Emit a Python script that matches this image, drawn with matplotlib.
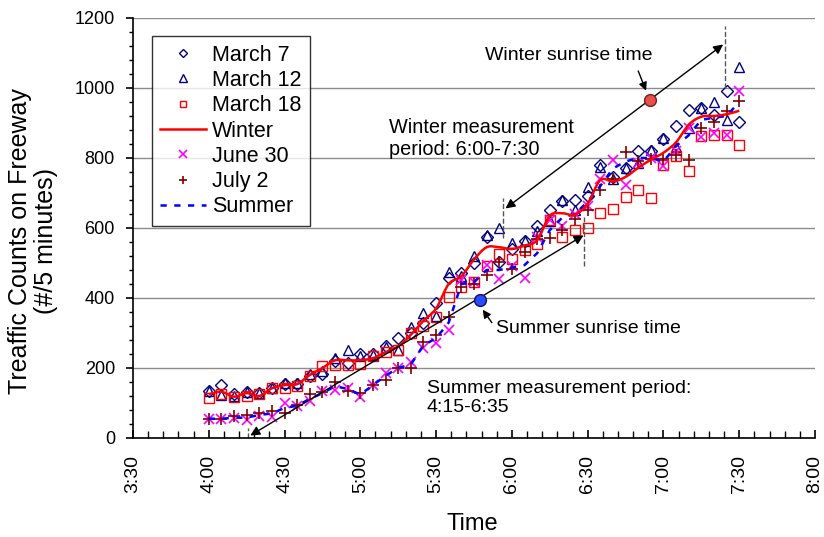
import numpy as np
import matplotlib
matplotlib.use('Agg')
import matplotlib.pyplot as plt
from matplotlib.path import Path
from matplotlib.patches import PathPatch

# readings every 5 minutes from 4:00 to 7:30 (minutes after midnight)
minutes = np.arange(240, 451, 5)

march7 = [135, 150, 125, 130, 128, 143, 155, 155, 178, 183,
          220, 215, 240, 240, 263, 286, 300, 328, 387, 457,
          470, 501, 573, 504, 540, 564, 606, 651, 677, 680,
          690, 780, 745, 770, 821, 821, 855, 891, 937, 942,
          923, 990, 904]
march12 = [135, 123, 120, 132, 128, 143, 157, 157, 183, 190,
           228, 250, 235, 237, 260, 250, 318, 356, 349, 475,
           462, 520, 580, 599, 556, 564, 590, 620, 680, 651,
           716, 775, 739, 770, 786, 823, 856, 832, 885, 942,
           961, 909, 1061]
march18 = [114, 125, 118, 120, 125, 143, 143, 149, 176, 206,
           208, 208, 211, 234, 247, 251, 299, 320, 347, 404,
           432, 447, 491, 526, 510, 537, 555, 623, 575, 594,
           599, 644, 655, 688, 709, 686, 779, 805, 762, 862,
           867, 867, 838]
winter = [125, 132, 118, 128, 120, 142, 151, 154, 180, 200,
          222, 222, 222, 228, 245, 262, 295, 335, 370, 440,
          462, 510, 545, 545, 540, 550, 565, 635, 642, 638,
          670, 737, 733, 746, 772, 795, 815, 845, 895, 918,
          920, 925, 935]
june30 = [54, 54, 57, 51, 63, 60, 100, 92, 107, 135,
          137, 143, 118, 151, 187, 199, 218, 256, 270, 309,
          451, 447, 494, 453, 490, 456, 575, 623, 606, 640,
          663, 739, 794, 723, 786, 800, 777, 820, 886, 861,
          870, 867, 992]
july2 = [54, 54, 63, 66, 72, 77, 71, 94, 125, 130,
         161, 135, 128, 151, 166, 199, 199, 275, 294, 347,
         432, 440, 466, 504, 483, 532, 568, 572, 594, 625,
         651, 709, 739, 818, 790, 796, 796, 809, 794, 887,
         904, 933, 964]
summer = [55, 55, 58, 58, 66, 70, 86, 92, 112, 128,
          148, 140, 124, 151, 178, 200, 210, 265, 285, 330,
          440, 445, 480, 480, 487, 494, 528, 594, 630, 640,
          675, 720, 770, 790, 800, 800, 790, 834, 865, 909,
          915, 920, 960]

tick_minutes = [210, 240, 270, 300, 330, 360, 390, 420, 450, 480]
tick_labels = ['3:30', '4:00', '4:30', '5:00', '5:30', '6:00', '6:30', '7:00', '7:30', '8:00']

# sunrise markers and measurement windows (time in minutes, count)
summer_sunrise = (347.2, 394)
winter_sunrise = (414.6, 966)
summer_period = [(255.5, 3), (389.3, 583)]
winter_period = [(356.6, 651), (444.5, 1129)]

plt.rcParams['font.family'] = ['Liberation Sans', 'DejaVu Sans']


def smooth_path(x, y):
    # Bezier segments through every reading, like a spreadsheet "smoothed line"
    x = np.asarray(x, float)
    y = np.asarray(y, float)
    n = len(x)
    verts = [(x[0], y[0])]
    codes = [Path.MOVETO]
    for i in range(n - 1):
        i0 = max(i - 1, 0)
        i3 = min(i + 2, n - 1)
        c1 = (x[i] + (x[i + 1] - x[i0]) / 6, y[i] + (y[i + 1] - y[i0]) / 6)
        c2 = (x[i + 1] - (x[i3] - x[i]) / 6, y[i + 1] - (y[i3] - y[i]) / 6)
        verts += [c1, c2, (x[i + 1], y[i + 1])]
        codes += [Path.CURVE4] * 3
    return Path(verts, codes)


fig = plt.figure(figsize=(8.24, 5.37), dpi=100)
ax = fig.add_axes([0.1614, 0.1844, 0.8277, 0.7821])

ax.set_xlim(210, 480)
ax.set_ylim(0, 1200)
ax.set_yticks(range(0, 1201, 200))
ax.set_yticks(range(0, 1201, 40), minor=True)
ax.set_xticks(tick_minutes)
ax.set_xticklabels(tick_labels, rotation=90, fontsize=14)
ax.set_xticks(np.arange(210, 481, 6), minor=True)
for lab in ax.get_yticklabels():
    lab.set_fontsize(13)
ax.yaxis.grid(True, which='major', color='#8c8c8c', lw=1)
ax.set_axisbelow(True)
for s in ['top', 'right']:
    ax.spines[s].set_visible(False)
ax.spines['left'].set_linewidth(1.2)
ax.spines['bottom'].set_linewidth(1.2)
ax.tick_params(axis='y', which='major', direction='out', length=5, width=1.2, pad=8)
ax.tick_params(axis='y', which='minor', direction='out', length=3, width=1)
ax.tick_params(axis='x', which='major', direction='in', length=6, width=1.2, pad=12)
ax.tick_params(axis='x', which='minor', direction='in', length=5, width=1)

ax.plot(minutes, march7, ls='none', marker='D', ms=6, mfc='none', mec='#000080', mew=1, label='March 7')
ax.plot(minutes, march12, ls='none', marker='^', ms=7.5, mfc='none', mec='#000080', mew=1, label='March 12')
ax.plot(minutes, march18, ls='none', marker='s', ms=7, mfc='none', mec='#ff0000', mew=1, label='March 18')
ax.add_patch(PathPatch(smooth_path(minutes, winter), fc='none', ec='#ff0000', lw=1.8, zorder=3))
ax.plot([], [], color='#ff0000', lw=1.8, label='Winter')
ax.plot(minutes, june30, ls='none', marker='x', ms=7.5, mec='#ff00ff', mew=1.2, label='June 30')
ax.plot(minutes, july2, ls='none', marker='+', ms=8.5, mec='#800000', mew=1.2, label='July 2')
ax.plot(minutes, summer, color='#0000ff', lw=1.8, ls=(0, (2.5, 3)), label='Summer')

# measurement windows
ax.annotate('', xy=summer_period[0], xytext=summer_period[1],
            arrowprops=dict(arrowstyle='<|-|>', color='black', lw=1, mutation_scale=14))
ax.annotate('', xy=winter_period[0], xytext=winter_period[1],
            arrowprops=dict(arrowstyle='<|-|>', color='black', lw=1, mutation_scale=14))
ax.plot([255.5, 255.5], [0, 28], color='#555555', ls='--', lw=1)
ax.plot([388.6, 388.6], [490, 630], color='#555555', ls='--', lw=1)
ax.plot([356.6, 356.6], [570, 686], color='#555555', ls='--', lw=1)
ax.plot([444.5, 444.5], [1000, 1177], color='#555555', ls='--', lw=1, clip_on=False)

ax.plot(*summer_sunrise, marker='o', ms=8.5, mfc='#2a4cff', mec='#101060', zorder=5)
ax.plot(*winter_sunrise, marker='o', ms=8.5, mfc='#e8504a', mec='#702020', zorder=5)
ax.annotate('', xy=(347.8, 373), xytext=(352.7, 323),
            arrowprops=dict(arrowstyle='-|>', color='black', lw=1, mutation_scale=12))
ax.annotate('', xy=(413.5, 985), xytext=(409.6, 1056),
            arrowprops=dict(arrowstyle='-|>', color='black', lw=1, mutation_scale=12))

ax.text(353.9, 314, 'Summer sunrise time', fontsize=14, va='center', ha='left')
ax.text(349.5, 1094, 'Winter sunrise time', fontsize=14, va='center', ha='left')
ax.text(311.3, 857, 'Winter measurement\nperiod: 6:00-7:30', fontsize=14.3, va='center', ha='left', linespacing=1.2)
ax.text(326.3, 114, 'Summer measurement period:\n4:15-6:35', fontsize=14, va='center', ha='left', linespacing=1.2)

ax.set_ylabel('Treaffic Counts on Freeway\n(#/5 minutes)', fontsize=18, va='center', linespacing=1.1)
ax.yaxis.set_label_coords(-0.147, 0.47)
ax.set_xlabel('Time', fontsize=17, va='center')
ax.xaxis.set_label_coords(0.498, -0.205)

leg = ax.legend(loc='upper left', bbox_to_anchor=(0.0277, 0.957), borderaxespad=0,
                fontsize=15.5, frameon=True, fancybox=False, edgecolor='black',
                markerscale=0.7, labelspacing=0.2, handlelength=2.1, handletextpad=0.3,
                borderpad=0.4)
leg.get_frame().set_linewidth(1)

fig.savefig('out.png', dpi=100)
